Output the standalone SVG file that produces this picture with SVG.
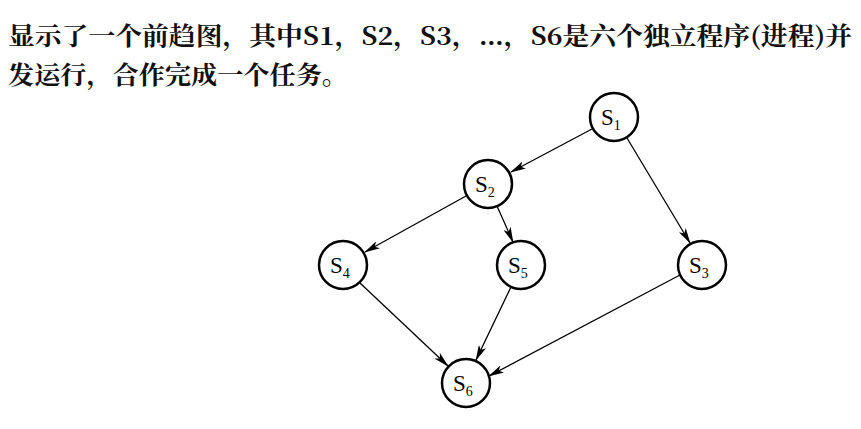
<svg xmlns="http://www.w3.org/2000/svg" width="861" height="429" viewBox="0 0 861 429">
<style>
.t{font-family:"Noto Serif CJK SC","Noto Sans CJK SC",serif;font-weight:bold;font-size:25px;fill:#111}
.n{fill:#fff;stroke:#000;stroke-width:2.5}
.l{font-family:"Liberation Serif",serif;font-size:23px;fill:#000}
.s{font-size:14px}
.e{stroke:#000;stroke-width:1.3;fill:none;marker-end:url(#a)}
</style>
<defs><marker id="a" viewBox="0 0 16 8" refX="15" refY="4" markerWidth="16" markerHeight="8" markerUnits="userSpaceOnUse" orient="auto"><path d="M0,0L16,4L0,8L4,4Z" fill="#000"/></marker></defs>
<rect width="861" height="429" fill="#fff"/>
<text class="t" x="8" y="45" textLength="844" lengthAdjust="spacingAndGlyphs">显示了一个前趋图，其中S1，S2，S3，…，S6是六个独立程序(进程)并</text>
<text class="t" x="8" y="84" textLength="340" lengthAdjust="spacingAndGlyphs">发运行，合作完成一个任务。</text>
<g id="edges">
<line class="e" x1="592" y1="129" x2="511" y2="172"/>
<line class="e" x1="627" y1="138" x2="690" y2="243"/>
<line class="e" x1="466" y1="196" x2="365" y2="252"/>
<line class="e" x1="497" y1="206" x2="513" y2="242"/>
<line class="e" x1="360" y1="283" x2="448" y2="366"/>
<line class="e" x1="511" y1="287" x2="476" y2="360"/>
<line class="e" x1="680" y1="275" x2="489" y2="376"/>
</g>
<g id="S1"><circle class="n" cx="614" cy="117" r="24"/><text class="l" x="601" y="125">S<tspan class="s" dy="5">1</tspan></text></g>
<g id="S2"><circle class="n" cx="488" cy="184" r="24"/><text class="l" x="475" y="192">S<tspan class="s" dy="5">2</tspan></text></g>
<g id="S4"><circle class="n" cx="343" cy="265" r="24"/><text class="l" x="330" y="273">S<tspan class="s" dy="5">4</tspan></text></g>
<g id="S5"><circle class="n" cx="521" cy="265" r="24"/><text class="l" x="508" y="273">S<tspan class="s" dy="5">5</tspan></text></g>
<g id="S3"><circle class="n" cx="702" cy="265" r="24"/><text class="l" x="689" y="273">S<tspan class="s" dy="5">3</tspan></text></g>
<g id="S6"><circle class="n" cx="466" cy="383" r="24"/><text class="l" x="453" y="391">S<tspan class="s" dy="5">6</tspan></text></g>
</svg>
